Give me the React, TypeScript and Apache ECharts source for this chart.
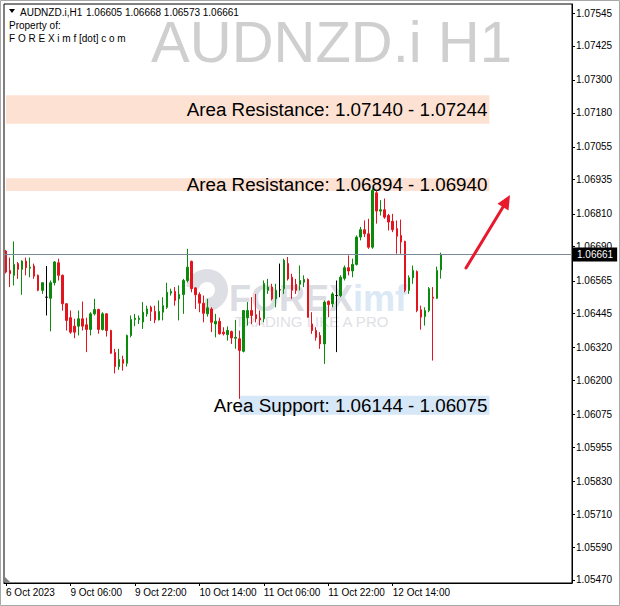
import React, { useEffect, useRef } from "react";
import * as echarts from "echarts";

// ---- data (H1 bars from 6 Oct 2023 14:00) ----
const opens = [
  1.06674, 1.06603, 1.06585, 1.06628, 1.06607, 1.06637, 1.06611, 1.06619, 1.06585, 1.0653,
  1.06505, 1.06501, 1.06558, 1.06631, 1.06585, 1.06481, 1.0643, 1.06399, 1.06399, 1.06426,
  1.06404, 1.06387, 1.06444, 1.0646, 1.06387, 1.06444, 1.06383, 1.06303, 1.06251, 1.06277,
  1.06263, 1.06365, 1.06423, 1.06423, 1.06414, 1.06444, 1.06468, 1.06453, 1.06422, 1.0645,
  1.06468, 1.0652, 1.06526, 1.06499, 1.06515, 1.06566, 1.06636, 1.06539, 1.06515, 1.06483,
  1.06444, 1.06462, 1.06407, 1.06417, 1.06377, 1.06368, 1.06379, 1.06355, 1.06353, 1.06307,
  1.0643, 1.06456, 1.06441, 1.06428, 1.06426, 1.0653, 1.06542, 1.06499, 1.06532, 1.06536,
  1.06628, 1.06578, 1.06552, 1.06552, 1.0656, 1.0657, 1.06407, 1.06383, 1.06365, 1.06334,
  1.0649, 1.06481, 1.06511, 1.06511, 1.06574, 1.06613, 1.06601, 1.06625, 1.06725, 1.06752,
  1.06737, 1.06688, 1.06887, 1.0682, 1.06825, 1.06804, 1.06783, 1.06756, 1.06731, 1.06709,
  1.0653, 1.06576, 1.06599, 1.06459, 1.06434, 1.06456, 1.06505, 1.06501, 1.06605,
];
const highs = [
  1.06678, 1.0665, 1.06709, 1.06634, 1.0664, 1.0665, 1.0665, 1.06628, 1.06588, 1.0656,
  1.06619, 1.06566, 1.06637, 1.06646, 1.06588, 1.06482, 1.06456, 1.06426, 1.06456, 1.06489,
  1.0643, 1.0645, 1.06499, 1.06463, 1.0645, 1.06447, 1.06386, 1.06316, 1.06316, 1.06291,
  1.06368, 1.06438, 1.06444, 1.06438, 1.06487, 1.06474, 1.06474, 1.06474, 1.06493, 1.06505,
  1.06558, 1.06536, 1.06542, 1.06548, 1.06572, 1.06682, 1.06639, 1.06542, 1.06523, 1.06511,
  1.06499, 1.06468, 1.06444, 1.0643, 1.06395, 1.06398, 1.06383, 1.06422, 1.06383, 1.06458,
  1.06487, 1.06505, 1.06517, 1.06456, 1.06566, 1.06572, 1.06554, 1.06554, 1.06628, 1.06646,
  1.06652, 1.06591, 1.06572, 1.06621, 1.06585, 1.06574, 1.0645, 1.06395, 1.06377, 1.06493,
  1.06493, 1.06523, 1.06566, 1.06585, 1.06621, 1.06658, 1.06646, 1.06731, 1.06762, 1.06786,
  1.06792, 1.06905, 1.06896, 1.0686, 1.06866, 1.0681, 1.0681, 1.06786, 1.06789, 1.06712,
  1.06585, 1.06621, 1.06603, 1.06474, 1.06468, 1.06542, 1.06542, 1.06617, 1.06668,
];
const lows = [
  1.06592, 1.06542, 1.06548, 1.06572, 1.06514, 1.06585, 1.06578, 1.06572, 1.06527, 1.06517,
  1.06438, 1.0638, 1.06548, 1.06566, 1.06456, 1.06383, 1.06371, 1.06355, 1.06365, 1.06383,
  1.06304, 1.06365, 1.06438, 1.06371, 1.06383, 1.06361, 1.06298, 1.06226, 1.06239, 1.06236,
  1.06251, 1.06358, 1.06399, 1.06407, 1.06389, 1.06434, 1.06418, 1.0641, 1.0642, 1.0642,
  1.06462, 1.06511, 1.06474, 1.0642, 1.06444, 1.06559, 1.06523, 1.06462, 1.0645, 1.06413,
  1.06434, 1.06377, 1.06358, 1.06368, 1.06365, 1.06346, 1.06334, 1.06316, 1.06133, 1.06303,
  1.06401, 1.06407, 1.06413, 1.06401, 1.06413, 1.06517, 1.06493, 1.06468, 1.06505, 1.06517,
  1.06566, 1.06499, 1.06517, 1.0653, 1.06542, 1.0643, 1.06371, 1.06346, 1.06316, 1.06261,
  1.06432, 1.06468, 1.06304, 1.06505, 1.06566, 1.06585, 1.06578, 1.06621, 1.06713, 1.06725,
  1.06682, 1.06682, 1.06774, 1.06804, 1.06792, 1.06749, 1.06743, 1.06664, 1.06664, 1.06523,
  1.06517, 1.06554, 1.0645, 1.06386, 1.06401, 1.0645, 1.06273, 1.06499, 1.06573,
];
const closes = [
  1.06597, 1.06591, 1.06625, 1.06607, 1.06637, 1.06613, 1.06615, 1.06582, 1.0653, 1.06558,
  1.06505, 1.06558, 1.06634, 1.06585, 1.06481, 1.0642, 1.06377, 1.06377, 1.06426, 1.06399,
  1.06387, 1.06444, 1.0646, 1.06387, 1.06444, 1.06383, 1.063, 1.06251, 1.06277, 1.06263,
  1.06365, 1.06423, 1.06428, 1.06428, 1.0645, 1.06462, 1.06453, 1.06422, 1.06453, 1.06474,
  1.06523, 1.06526, 1.06493, 1.06515, 1.06566, 1.06615, 1.06536, 1.06514, 1.06483, 1.06446,
  1.06466, 1.06413, 1.06417, 1.06371, 1.06371, 1.06383, 1.06356, 1.06358, 1.0631, 1.06456,
  1.06456, 1.06438, 1.06426, 1.06422, 1.06555, 1.06542, 1.06499, 1.0653, 1.06532, 1.0664,
  1.06572, 1.0653, 1.0653, 1.06566, 1.0657, 1.06432, 1.06383, 1.06358, 1.06334, 1.06487,
  1.06478, 1.06517, 1.06511, 1.06578, 1.06613, 1.06601, 1.06625, 1.06725, 1.06752, 1.06737,
  1.06688, 1.06896, 1.0682, 1.06825, 1.06798, 1.0678, 1.06752, 1.06728, 1.06707, 1.0653,
  1.06576, 1.06603, 1.06456, 1.06432, 1.06456, 1.06536, 1.06501, 1.06603, 1.06661,
];

const yTickValues = [
  1.07545, 1.07425, 1.073, 1.0718, 1.07055, 1.06935, 1.0681, 1.0669, 1.06565,
  1.06445, 1.0632, 1.062, 1.06075, 1.05955, 1.0583, 1.0571, 1.0559, 1.0547,
];
const xTickIdx = [0, 16, 32, 48, 64, 80, 96];
const xTickLabels = [
  "6 Oct 2023", "9 Oct 06:00", "9 Oct 22:00", "10 Oct 14:00",
  "11 Oct 06:00", "11 Oct 22:00", "12 Oct 14:00",
];
const currentPrice = 1.06661;
const resistance1 = [1.0714, 1.07244];
const resistance2 = [1.06894, 1.0694];
const support = [1.06075, 1.06144];
const Y_MIN = 1.05459;
const Y_MAX = 1.07578;
const TOTAL_SLOTS = 141;
const ZONE_END_IDX = 120;
const SUPPORT_START_IDX = 58;

const FONT = "'Liberation Sans', Arial, sans-serif";

function buildCategories(): string[] {
  const out: string[] = [];
  let t = Date.UTC(2023, 9, 6, 14);
  const p = (n: number) => (n < 10 ? "0" + n : "" + n);
  while (out.length < TOTAL_SLOTS) {
    const d = new Date(t);
    const wd = d.getUTCDay();
    if (wd !== 0 && wd !== 6) {
      out.push(`${d.getUTCFullYear()}.${p(d.getUTCMonth() + 1)}.${p(d.getUTCDate())} ${p(d.getUTCHours())}:00`);
    }
    t += 3600000;
  }
  return out;
}

export default function App() {
  const ref = useRef<HTMLDivElement>(null);
  useEffect(() => {
    if (!ref.current) return;
    const chart = echarts.init(ref.current, undefined, { renderer: "svg" });
    const categories = buildCategories();
    const tickSet = new Set(xTickIdx);
    const labelByCat: Record<string, string> = {};
    xTickIdx.forEach((i, k) => (labelByCat[categories[i]] = xTickLabels[k]));

    const BULL = "#0b8a0b";
    const BEAR = "#e3141e";
    const black = { color: "#000", color0: "#000", borderColor: "#000", borderColor0: "#000", borderColorDoji: "#000" };
    const candles = opens.map((o, i) => {
      const item: any = { value: [o, closes[i], lows[i], highs[i]] };
      if (o === closes[i]) item.itemStyle = black;
      return item;
    });

    const zoneLabel = (text: string) => ({
      show: true,
      position: "insideRight",
      formatter: text,
      color: "#000",
      fontSize: 18.8,
      fontFamily: FONT,
      distance: 2,
    });
    const last = opens.length - 1;

    const option: any = {
      animation: false,
      backgroundColor: "#fff",
      grid: {
        left: 4, right: 48, top: 4, bottom: 23,
        show: true, borderColor: "#000", borderWidth: 1, backgroundColor: "transparent",
        outerBoundsMode: "none",
      },
      xAxis: {
        type: "category",
        data: categories,
        boundaryGap: true,
        axisLine: { show: true, onZero: false, lineStyle: { color: "#000", width: 1 } },
        axisTick: { show: true, alignWithLabel: true, interval: (i: number) => tickSet.has(i), length: 3, lineStyle: { color: "#000" } },
        axisLabel: {
          interval: (i: number) => tickSet.has(i),
          formatter: (v: string) => labelByCat[v] ?? "",
          align: "left", color: "#000", fontSize: 10, fontFamily: FONT, margin: 4,
        },
        splitLine: { show: false },
      },
      yAxis: {
        type: "value",
        position: "right",
        min: Y_MIN,
        max: Y_MAX,
        scale: true,
        splitLine: { show: false },
        axisLine: { show: true, lineStyle: { color: "#000", width: 1 } },
        axisTick: { show: true, length: 3, lineStyle: { color: "#000" }, customValues: yTickValues },
        axisLabel: {
          customValues: yTickValues,
          formatter: (v: number) => v.toFixed(5),
          color: "#000", fontSize: 10, fontFamily: FONT, margin: 4,
        },
      },
      series: [
        {
          type: "candlestick",
          data: candles,
          barWidth: 2,
          z: 3,
          itemStyle: { color: BULL, color0: BEAR, borderColor: BULL, borderColor0: BEAR, borderWidth: 1 },
          emphasis: { disabled: true },
          markArea: {
            silent: true,
            data: [
              [
                { xAxis: categories[0], yAxis: resistance1[1], itemStyle: { color: "#fde2d3" },
                  label: zoneLabel(`Area Resistance: ${resistance1[0].toFixed(5)} - ${resistance1[1].toFixed(5)}`) },
                { xAxis: categories[ZONE_END_IDX], yAxis: resistance1[0] },
              ],
              [
                { xAxis: categories[0], yAxis: resistance2[1], itemStyle: { color: "#fde2d3" },
                  label: zoneLabel(`Area Resistance: ${resistance2[0].toFixed(5)} - ${resistance2[1].toFixed(5)}`) },
                { xAxis: categories[ZONE_END_IDX], yAxis: resistance2[0] },
              ],
              [
                { xAxis: categories[SUPPORT_START_IDX], yAxis: support[1], itemStyle: { color: "#d6e7f7" },
                  label: zoneLabel(`Area Support: ${support[1].toFixed(5)} - ${support[0].toFixed(5)}`) },
                { xAxis: categories[ZONE_END_IDX], yAxis: support[0] },
              ],
            ],
          },
        },
        {
          // carrier for the current-price (bid) line
          type: "line",
          data: [],
          symbol: "none",
          silent: true,
          z: 2,
          markLine: {
            silent: true,
            precision: 5,
            symbol: ["none", "none"],
            lineStyle: { color: "#7a8a99", width: 1, type: "solid" },
            label: {
              show: true, position: "end", formatter: currentPrice.toFixed(5),
              color: "#fff", backgroundColor: "#000", padding: [2, 4, 2, 4],
              fontSize: 10, fontFamily: FONT, distance: 1,
            },
            emphasis: { disabled: true },
            data: [{ yAxis: currentPrice }],
          },
        },
      ],
      graphic: [
        { type: "rect", z: 100, shape: { x: 0.5, y: 0.5, width: 619, height: 605 }, style: { fill: "none", stroke: "#a8a8a8", lineWidth: 1 } },
        // header
        { type: "polygon", z: 50, shape: { points: [[9, 9], [15, 9], [12, 13]] }, style: { fill: "#000" } },
        { type: "text", z: 50, x: 20, y: 12, style: { text: "AUDNZD.i,H1", fill: "#000", font: `10px ${FONT}`, verticalAlign: "middle" } },
        { type: "text", z: 50, x: 86, y: 12, style: {
            text: `${opens[last].toFixed(5)} ${highs[last].toFixed(5)} ${lows[last].toFixed(5)} ${closes[last].toFixed(5)}`,
            fill: "#000", font: `10px ${FONT}`, verticalAlign: "middle" } },
        { type: "text", z: 50, x: 9, y: 25, style: { text: "Property of:", fill: "#000", font: `10px ${FONT}`, verticalAlign: "middle" } },
        { type: "text", z: 50, x: 9, y: 38, style: { text: "F O R E X i m f [dot] c o m", fill: "#000", font: `10px ${FONT}`, verticalAlign: "middle" } },
        // big watermark
        { type: "text", z: 0, x: 512, y: 41, style: { text: "AUDNZD.i H1", fill: "#cfcfcf", font: `58px ${FONT}`, align: "right", verticalAlign: "middle" } },
        // FOREXimf logo watermark
        { type: "circle", z: 0, shape: { cx: 207, cy: 290, r: 21 }, style: { fill: "#dedee5" } },
        { type: "sector", z: 0, shape: { cx: 207, cy: 290, r: 22, r0: 0, startAngle: Math.PI * 0.55, endAngle: Math.PI * 1.05 }, style: { fill: "#fff" } },
        { type: "circle", z: 0, shape: { cx: 207, cy: 290, r: 8 }, style: { fill: "#fff" } },
        { type: "text", z: 0, x: 229, y: 298, style: { text: "FOREX", fill: "#dcdde3", font: `bold 36px ${FONT}`, verticalAlign: "middle" } },
        { type: "text", z: 0, x: 353, y: 298, style: { text: "imf", fill: "#dbe8f5", font: `bold 36px ${FONT}`, verticalAlign: "middle" } },
        { type: "text", z: 0, x: 235, y: 321, style: { text: "TRADING LIKE A PRO", fill: "#e0e0e5", font: `15px ${FONT}`, verticalAlign: "middle" } },
        // red arrow
        { type: "line", z: 60, shape: { x1: 466, y1: 268, x2: 503, y2: 207 }, style: { stroke: "#e8192c", lineWidth: 3, lineCap: "round" } },
        { type: "polygon", z: 60, shape: { points: [[510, 195], [508.5, 210.5], [497.5, 203.8]] }, style: { fill: "#e8192c" } },
        // bottom-left shift marker
        { type: "polygon", z: 60, shape: { points: [[5, 577], [5, 583], [11, 583]] }, style: { fill: "#808080" } },
      ],
    };
    chart.setOption(option);
    return () => chart.dispose();
  }, []);
  return (
    <div
      ref={ref}
      style={{ position: "fixed", left: 0, top: 0, width: 620, height: 606, background: "#fff" }}
    />
  );
}
